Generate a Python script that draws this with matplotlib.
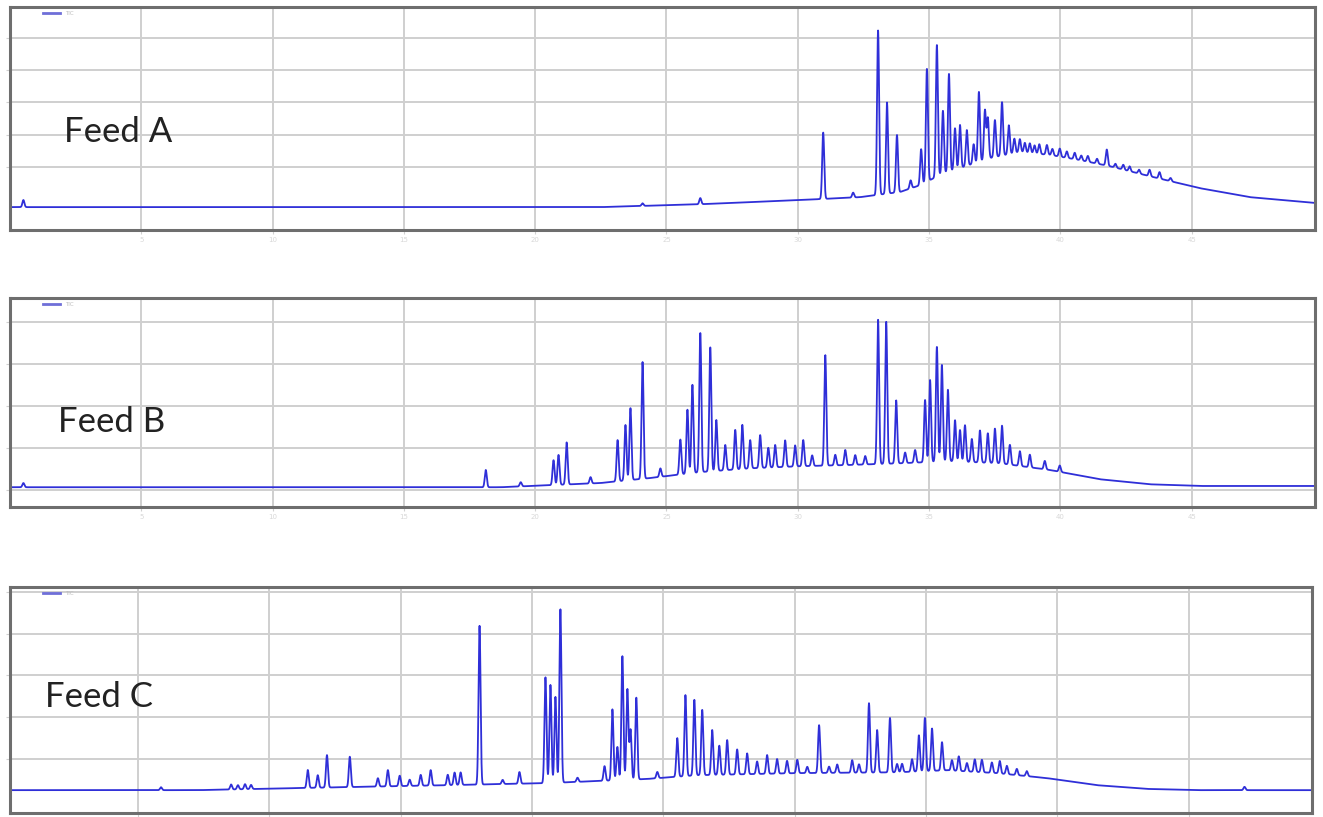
import numpy as np
import matplotlib
matplotlib.use("Agg")
import matplotlib.pyplot as plt

# ---------------- data (retention time in min, intensity in grid units) ----------------
feed_labels = ["Feed A", "Feed B", "Feed C"]
legend_labels = ["TIC", "TIC", "TIC"]
time_ticks = [5, 10, 15, 20, 25, 30, 35, 40, 45]

# Feed A: baseline / hump
a_base_t = [0.0, 22.49, 26.29, 30.10, 32.38, 33.90, 34.66, 35.42, 36.18, 37.32, 38.46,
            39.60, 40.74, 41.88, 43.40, 45.30, 47.21, 49.70]
a_base_v = [-0.25, -0.25, -0.16, -0.03, 0.06, 0.22, 0.43, 0.75, 0.96, 1.27, 1.46,
            1.37, 1.21, 1.02, 0.71, 0.34, 0.06, -0.12]
# Feed A: peaks (time, height above baseline)
a_peak_t = [0.51, 24.09, 26.29, 30.97, 32.11, 33.06, 33.40, 33.78, 34.30, 34.70, 34.92,
            35.30, 35.53, 35.76, 35.99, 36.18, 36.44, 36.70, 36.90, 37.13, 37.24, 37.51,
            37.78, 38.04, 38.25, 38.46, 38.65, 38.84, 39.02, 39.20, 39.49, 39.70, 39.98,
            40.25, 40.55, 40.80, 41.05, 41.40, 41.77, 42.10, 42.40, 42.64, 43.00, 43.40,
            43.78, 44.20]
a_peak_h = [0.22, 0.08, 0.19, 2.06, 0.15, 5.10, 2.83, 1.78, 0.25, 1.10, 3.50,
            4.08, 1.96, 3.04, 1.29, 1.34, 1.11, 0.60, 2.17, 1.54, 1.27, 1.15,
            1.66, 0.90, 0.45, 0.40, 0.30, 0.30, 0.25, 0.30, 0.30, 0.20, 0.25,
            0.20, 0.20, 0.15, 0.18, 0.15, 0.50, 0.12, 0.15, 0.15, 0.12, 0.20,
            0.20, 0.10]

# Feed B
b_base_t = [0.0, 18.69, 20.59, 22.49, 24.39, 26.29, 28.19, 30.10, 32.00, 33.90, 35.80,
            37.70, 39.60, 41.50, 43.40, 45.30, 49.70]
b_base_v = [0.07, 0.07, 0.12, 0.17, 0.29, 0.43, 0.52, 0.57, 0.60, 0.64, 0.69,
            0.64, 0.48, 0.26, 0.14, 0.10, 0.10]
b_peak_t = [0.51, 18.12, 19.45, 20.70, 20.89, 21.20, 22.11, 23.14, 23.44, 23.63, 24.09,
            24.77, 25.53, 25.80, 25.99, 26.29, 26.67, 26.90, 27.24, 27.62, 27.89, 28.19,
            28.57, 28.88, 29.14, 29.52, 29.90, 30.21, 30.55, 31.05, 31.43, 31.81, 32.19,
            32.57, 33.06, 33.37, 33.75, 34.09, 34.47, 34.85, 35.04, 35.30, 35.49, 35.72,
            35.99, 36.18, 36.37, 36.63, 36.94, 37.24, 37.51, 37.78, 38.08, 38.46, 38.84,
            39.41, 39.98]
b_peak_h = [0.10, 0.41, 0.10, 0.59, 0.71, 1.00, 0.15, 0.98, 1.32, 1.71, 2.78,
            0.20, 0.83, 1.52, 2.10, 3.31, 2.95, 1.21, 0.60, 0.94, 1.05, 0.67,
            0.78, 0.47, 0.53, 0.63, 0.50, 0.62, 0.25, 2.63, 0.25, 0.36, 0.23,
            0.20, 3.43, 3.38, 1.50, 0.25, 0.30, 1.48, 1.95, 2.73, 2.30, 1.70,
            0.98, 0.75, 0.87, 0.55, 0.76, 0.70, 0.82, 0.90, 0.47, 0.35, 0.30,
            0.20, 0.15]

# Feed C
c_base_t = [0.0, 7.28, 11.08, 16.79, 20.59, 24.39, 26.29, 30.10, 33.90, 35.80, 37.70,
            39.60, 41.50, 43.40, 45.30, 49.70]
c_base_v = [0.24, 0.24, 0.29, 0.36, 0.41, 0.51, 0.60, 0.65, 0.67, 0.72, 0.65,
            0.53, 0.36, 0.27, 0.24, 0.24]
c_peak_t = [5.87, 8.54, 8.80, 9.07, 9.30, 11.46, 11.84, 12.19, 13.06, 14.13, 14.51,
            14.96, 15.34, 15.76, 16.14, 16.79, 17.05, 17.28, 18.00, 18.88, 19.52, 20.51,
            20.70, 20.89, 21.08, 21.73, 22.76, 23.06, 23.25, 23.44, 23.63, 23.75, 23.97,
            24.77, 25.53, 25.84, 26.18, 26.48, 26.86, 27.13, 27.43, 27.81, 28.19, 28.57,
            28.95, 29.33, 29.71, 30.10, 30.48, 30.93, 31.31, 31.62, 32.19, 32.45, 32.83,
            33.14, 33.63, 33.90, 34.09, 34.47, 34.73, 34.96, 35.23, 35.61, 35.99, 36.25,
            36.56, 36.86, 37.13, 37.51, 37.81, 38.08, 38.46, 38.84, 47.13]
c_peak_h = [0.07, 0.12, 0.10, 0.12, 0.10, 0.43, 0.30, 0.78, 0.73, 0.20, 0.39,
            0.25, 0.15, 0.26, 0.37, 0.25, 0.30, 0.30, 3.82, 0.10, 0.28, 2.55,
            2.36, 2.07, 4.17, 0.10, 0.35, 1.71, 0.80, 2.98, 2.18, 1.20, 1.97,
            0.15, 0.93, 1.95, 1.82, 1.57, 1.08, 0.70, 0.83, 0.60, 0.50, 0.30,
            0.45, 0.35, 0.30, 0.32, 0.15, 1.15, 0.15, 0.20, 0.30, 0.20, 1.67,
            1.02, 1.31, 0.20, 0.20, 0.30, 0.87, 1.28, 1.02, 0.68, 0.25, 0.35,
            0.20, 0.30, 0.30, 0.25, 0.30, 0.20, 0.15, 0.12, 0.08]

# ---------------- build traces ----------------
def trace(t, base_t, base_v, peak_t, peak_h, width=0.038):
    y = np.interp(t, base_t, base_v)
    for pt, ph in zip(peak_t, peak_h):
        y = y + ph * np.exp(-0.5 * ((t - pt) / width) ** 2)
    return y

t = np.arange(0.0, 49.71, 0.004)
panels = [
    dict(base=(a_base_t, a_base_v), peaks=(a_peak_t, a_peak_h),
         rect=[10/1323, 1-230/817, 1305/1323, 223/817], ylim=(-0.96, 5.96),
         yticks=[1, 2, 3, 4, 5], xlim=(0.0, 49.7), label_xy=(64, 132), xlab=True),
    dict(base=(b_base_t, b_base_v), peaks=(b_peak_t, b_peak_h),
         rect=[10/1323, 1-507/817, 1305/1323, 209/817], ylim=(-0.40, 4.57),
         yticks=[0, 1, 2, 3, 4], xlim=(0.0, 49.7), label_xy=(58, 422), xlab=True),
    dict(base=(c_base_t, c_base_v), peaks=(c_peak_t, c_peak_h),
         rect=[10/1323, 1-813/817, 1302/1323, 226/817], ylim=(-0.31, 5.13),
         yticks=[1, 2, 3, 4, 5], xlim=(0.12, 49.7), label_xy=(45, 697), xlab=False),
]

fig = plt.figure(figsize=(13.23, 8.17), dpi=100)
line_color = "#2f2fd8"
for i, p in enumerate(panels):
    ax = fig.add_axes(p["rect"])
    y = trace(t, p["base"][0], p["base"][1], p["peaks"][0], p["peaks"][1])
    ax.plot(t, y, color=line_color, lw=1.3, label=legend_labels[i])
    ax.set_xlim(*p["xlim"])
    ax.set_ylim(*p["ylim"])
    ax.set_xticks(time_ticks)
    ax.set_yticks(p["yticks"])
    ax.set_xticklabels([str(v) for v in time_ticks])
    ax.set_yticklabels([])
    ax.tick_params(axis="x", direction="out", length=3, color="#d0d0d0",
                   labelsize=5, labelcolor="#d8d8d8", pad=2,
                   labelbottom=p["xlab"])
    ax.tick_params(axis="y", direction="out", length=3, color="#d0d0d0")
    ax.grid(True, color="#cfcfcf", lw=1.4)
    ax.set_axisbelow(True)
    for s in ax.spines.values():
        s.set_color("#6e6e6e")
        s.set_linewidth(2.2)
    leg = ax.legend(loc="upper left", fontsize=4, frameon=False, handlelength=3.2,
                    borderaxespad=0.3, labelcolor="#bbbbbb", bbox_to_anchor=(0.022, 1.0))
    for h in leg.get_lines():
        h.set_color("#6f6fd8")
        h.set_linewidth(2.0)
    lx, ly = p["label_xy"]
    fig.text(lx/1323, 1-ly/817, feed_labels[i], fontsize=25, family="Lato",
             color="#222222", ha="left", va="center")

fig.savefig("out.png", dpi=100)
